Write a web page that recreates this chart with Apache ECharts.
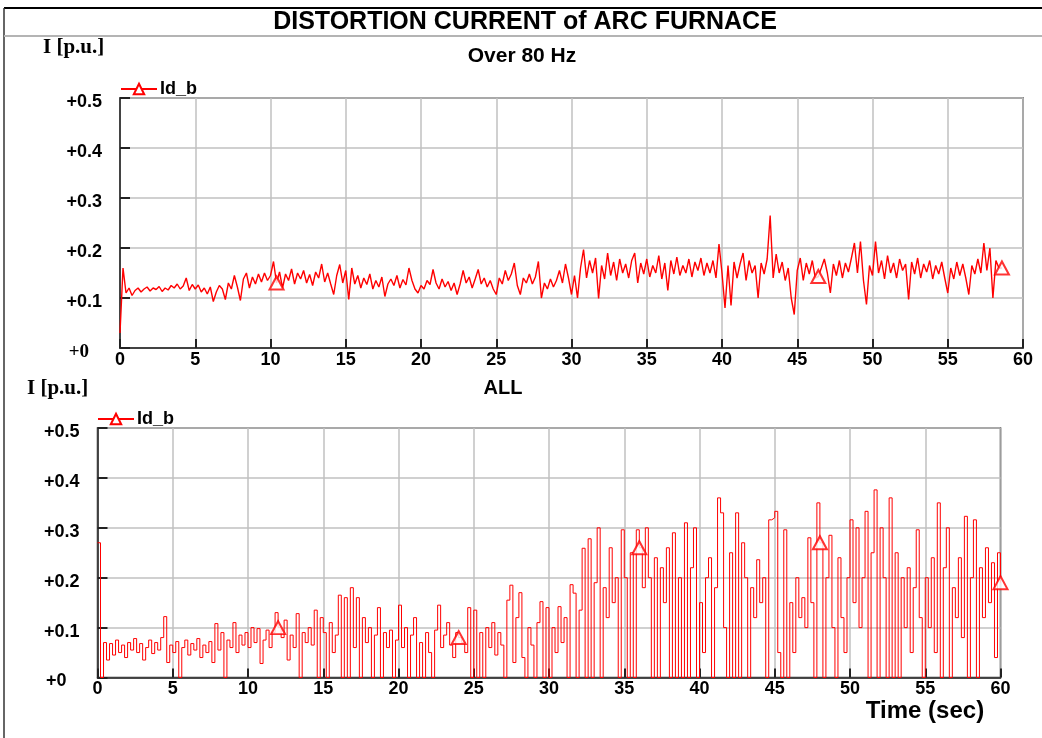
<!DOCTYPE html>
<html>
<head>
<meta charset="utf-8">
<script src="https://cdn.jsdelivr.net/npm/echarts@6/dist/echarts.min.js"></script>
<style>
html,body{margin:0;padding:0;background:#fff;}
#chart{width:1042px;height:738px;}
</style>
</head>
<body>
<div id="chart"></div>
<script>
// sampling step of both records (seconds)
const dt = 0.2;

// "Over 80 Hz" distortion current Id_b [p.u.], t = 0 .. 58.6 s
const topValues = [
  0.03,0.16,0.11,0.12,0.105,0.115,0.12,0.112,0.118,0.122,0.114,0.12,0.117,0.123,0.113,0.12,0.116,0.125,0.12,0.128,0.118,0.124,0.14,0.115,0.127,
  0.118,0.126,0.112,0.12,0.108,0.122,0.093,0.112,0.125,0.118,0.097,0.13,0.118,0.145,0.122,0.095,0.138,0.15,0.12,0.142,0.128,0.148,0.132,0.15,0.135,
  0.145,0.173,0.13,0.152,0.12,0.148,0.135,0.158,0.128,0.15,0.138,0.155,0.13,0.147,0.125,0.152,0.14,0.168,0.132,0.15,0.128,0.107,0.145,0.167,0.13,
  0.155,0.097,0.16,0.128,0.145,0.12,0.14,0.127,0.148,0.118,0.135,0.122,0.142,0.103,0.128,0.138,0.125,0.145,0.12,0.137,0.126,0.16,0.135,0.118,0.11,
  0.125,0.118,0.135,0.127,0.157,0.13,0.118,0.138,0.122,0.133,0.115,0.13,0.107,0.128,0.155,0.13,0.142,0.12,0.138,0.157,0.128,0.14,0.122,0.135,0.118,
  0.107,0.14,0.128,0.155,0.135,0.148,0.17,0.125,0.107,0.14,0.13,0.148,0.128,0.142,0.173,0.1,0.13,0.118,0.138,0.122,0.135,0.155,0.13,0.168,0.14,
  0.107,0.145,0.1,0.16,0.197,0.14,0.175,0.15,0.18,0.099,0.165,0.138,0.19,0.145,0.172,0.135,0.178,0.15,0.168,0.14,0.175,0.19,0.13,0.17,0.148,
  0.178,0.142,0.165,0.15,0.185,0.138,0.17,0.115,0.175,0.148,0.182,0.145,0.165,0.15,0.178,0.142,0.172,0.155,0.18,0.145,0.17,0.15,0.175,0.14,0.208,
  0.15,0.08,0.165,0.085,0.172,0.14,0.168,0.19,0.135,0.175,0.15,0.165,0.1,0.17,0.148,0.178,0.265,0.14,0.188,0.15,0.172,0.135,0.16,0.1,0.067,
  0.155,0.18,0.135,0.17,0.148,0.175,0.14,0.143,0.16,0.178,0.15,0.11,0.168,0.145,0.175,0.14,0.17,0.152,0.18,0.21,0.15,0.213,0.135,0.087,0.165,
  0.145,0.213,0.15,0.175,0.138,0.185,0.15,0.17,0.14,0.178,0.155,0.168,0.097,0.172,0.148,0.18,0.14,0.168,0.152,0.175,0.138,0.165,0.148,0.172,0.14,
  0.11,0.16,0.138,0.172,0.145,0.168,0.14,0.107,0.165,0.148,0.178,0.15,0.21,0.155,0.2,0.1,0.175,0.16,0.16
];

// "ALL" distortion current Id_b [p.u.], t = 0 .. 60 s
const bottomValues = [
  0.27,0.0,0.07,0.035,0.068,0.045,0.075,0.05,0.065,0.04,0.07,0.055,0.078,0.05,0.068,0.035,0.06,0.075,0.048,0.07,0.055,0.08,0.122,0.03,0.065,
  0.05,0.072,0.0,0.06,0.075,0.045,0.068,0.055,0.078,0.04,0.065,0.05,0.072,0.03,0.108,0.055,0.09,0.0,0.075,0.06,0.11,0.05,0.085,0.065,0.09,
  0.06,0.1,0.07,0.098,0.028,0.075,0.095,0.06,0.09,0.13,0.1,0.08,0.115,0.035,0.085,0.06,0.128,0.0,0.09,0.07,0.1,0.065,0.135,0.0,0.12,
  0.09,0.0,0.11,0.05,0.085,0.165,0.0,0.16,0.0,0.18,0.06,0.16,0.0,0.12,0.07,0.1,0.0,0.085,0.14,0.0,0.09,0.06,0.095,0.0,0.075,
  0.145,0.06,0.1,0.0,0.085,0.12,0.0,0.07,0.0,0.09,0.05,0.0,0.095,0.145,0.06,0.085,0.11,0.065,0.04,0.09,0.08,0.07,0.05,0.14,0.0,
  0.135,0.0,0.09,0.0,0.1,0.06,0.11,0.045,0.09,0.065,0.0,0.155,0.185,0.03,0.12,0.17,0.04,0.0,0.1,0.065,0.0,0.11,0.152,0.0,0.14,
  0.0,0.1,0.05,0.142,0.07,0.12,0.0,0.186,0.169,0.0,0.135,0.259,0.0,0.278,0.0,0.19,0.3,0.0,0.18,0.12,0.26,0.15,0.2,0.0,0.296,
  0.2,0.0,0.25,0.0,0.296,0.26,0.18,0.3,0.2,0.0,0.24,0.0,0.22,0.15,0.26,0.0,0.29,0.0,0.2,0.0,0.31,0.0,0.22,0.3,0.0,
  0.15,0.05,0.2,0.24,0.0,0.18,0.36,0.33,0.1,0.0,0.25,0.0,0.33,0.0,0.27,0.2,0.0,0.18,0.12,0.236,0.15,0.2,0.0,0.316,0.32,
  0.333,0.05,0.0,0.296,0.0,0.15,0.05,0.2,0.12,0.16,0.1,0.28,0.15,0.0,0.35,0.27,0.0,0.2,0.285,0.1,0.0,0.24,0.12,0.05,0.2,
  0.316,0.15,0.3,0.1,0.2,0.333,0.0,0.25,0.376,0.0,0.3,0.2,0.0,0.36,0.0,0.25,0.0,0.2,0.1,0.22,0.05,0.18,0.296,0.12,0.0,
  0.2,0.1,0.24,0.05,0.35,0.0,0.22,0.3,0.0,0.18,0.12,0.24,0.08,0.323,0.0,0.2,0.316,0.0,0.22,0.12,0.26,0.15,0.23,0.04,0.25,0.19
];

// sample indices carrying the triangle marker
const topMarkerIdx = [52, 232, 293];
const bottomMarkerIdx = [60, 120, 180, 240, 300];

// tick labels
const xTickLabels = ['0','5','10','15','20','25','30','35','40','45','50','55','60'];
const yTickLabels = ['+0','+0.1','+0.2','+0.3','+0.4','+0.5'];

const seriesName = 'Id_b';

const toPairs = vals => vals.map((v, i) => [+(i * dt).toFixed(2), v]);
const topData = toPairs(topValues);
const bottomData = toPairs(bottomValues);
const topMarkers = topMarkerIdx.map(i => topData[i]);
const bottomMarkers = bottomMarkerIdx.map(i => bottomData[i]);

const SANS = '"Liberation Sans", Arial, Helvetica, sans-serif';
const SERIF = '"Liberation Serif", "Times New Roman", serif';
const RED = '#ff0000';

function xAxisCfg(gi) {
  return {
    gridIndex: gi, type: 'value', min: 0, max: 60, interval: 5,
    axisLine: { show: true, onZero: false, lineStyle: { color: '#222', width: 1.5 } },
    axisTick: { show: true, inside: true, length: 9, lineStyle: { color: '#222', width: 2 } },
    splitLine: { show: true, lineStyle: { color: '#c0c0c0', width: 1.5 } },
    axisLabel: {
      margin: 3, color: '#000', fontFamily: SANS, fontWeight: 'bold', fontSize: 18,
      formatter: v => xTickLabels[Math.round(v / 5)]
    }
  };
}
function yAxisCfg(gi, zeroSerif) {
  return {
    gridIndex: gi, type: 'value', min: 0, max: 0.5, interval: 0.1,
    axisLine: { show: true, lineStyle: { color: '#222', width: 1.5 } },
    axisTick: { show: true, inside: true, length: 10, lineStyle: { color: '#222', width: 2 } },
    splitLine: { show: true, lineStyle: { color: '#c0c0c0', width: 1.5 } },
    axisLabel: {
      margin: 18, color: '#000', fontFamily: SANS, fontWeight: 'bold', fontSize: 18,
      padding: [8, 0, 0, 0],
      formatter: v => {
        const k = Math.round(v * 10);
        return k === 0 ? '{z|' + yTickLabels[0] + '}' : yTickLabels[k];
      },
      rich: {
        z: {
          fontFamily: zeroSerif ? SERIF : SANS, fontWeight: 'bold', fontSize: zeroSerif ? 19 : 18,
          color: '#000', padding: [0, 13, 0, 0]
        }
      }
    }
  };
}
function lineSeries(ai, data, step, w) {
  return {
    type: 'line', name: seriesName, xAxisIndex: ai, yAxisIndex: ai, data: data,
    step: step, symbol: 'emptyTriangle', symbolSize: [13, 12], showSymbol: false,
    lineStyle: { color: RED, width: w }, itemStyle: { color: RED },
    animation: false, silent: true, z: 3
  };
}
function markerSeries(ai, data) {
  return {
    type: 'scatter', name: 'markers', xAxisIndex: ai, yAxisIndex: ai, data: data,
    symbol: 'emptyTriangle', symbolSize: [14, 13],
    itemStyle: { color: RED, borderColor: RED, borderWidth: 1 },
    animation: false, silent: true, z: 4
  };
}
function legendCfg(left, top) {
  return {
    data: [{ name: seriesName }], left: left, top: top, orient: 'horizontal',
    itemWidth: 36, itemHeight: 13, itemGap: 4, padding: 0, selectedMode: false,
    textStyle: { color: '#000', fontFamily: SANS, fontWeight: 'bold', fontSize: 18, padding: [0, 0, 0, -2] }
  };
}
function txt(text, x, y, font, align) {
  return {
    type: 'text', silent: true,
    style: { text: text, x: x, y: y, font: font, fill: '#000', textAlign: align || 'center', textVerticalAlign: 'middle' }
  };
}

const chart = echarts.init(document.getElementById('chart'), null, { renderer: 'canvas' });
chart.setOption({
  backgroundColor: '#fff',
  animation: false,
  grid: [
    { left: 120, top: 98, width: 903, height: 250, show: true, borderColor: '#333', borderWidth: 1.5, backgroundColor: 'transparent' },
    { left: 97.5, top: 428, width: 903, height: 249.5, show: true, borderColor: '#333', borderWidth: 1.5, backgroundColor: 'transparent' }
  ],
  xAxis: [xAxisCfg(0), xAxisCfg(1)],
  yAxis: [yAxisCfg(0, true), yAxisCfg(1, false)],
  legend: [legendCfg(120, 80), legendCfg(97, 410)],
  series: [
    lineSeries(0, topData, false, 1.4),
    markerSeries(0, topMarkers),
    lineSeries(1, bottomData, 'end', 1),
    markerSeries(1, bottomMarkers)
  ],
  graphic: [
    { type: 'line', silent: true, shape: { x1: 4, y1: 8, x2: 1042, y2: 8 }, style: { stroke: '#000', lineWidth: 2 } },
    { type: 'line', silent: true, shape: { x1: 4, y1: 8, x2: 4, y2: 738 }, style: { stroke: '#333', lineWidth: 1.5 } },
    { type: 'line', silent: true, shape: { x1: 4, y1: 36, x2: 1042, y2: 36 }, style: { stroke: '#b4b4b4', lineWidth: 2 } },
    txt('DISTORTION CURRENT of ARC FURNACE', 525, 22, 'bold 25px ' + SANS),
    txt('I [p.u.]', 43, 48, 'bold 21px ' + SERIF, 'left'),
    txt('Over 80 Hz', 522, 56, 'bold 21px ' + SANS),
    txt('I [p.u.]', 27, 389, 'bold 21px ' + SERIF, 'left'),
    txt('ALL', 503, 388, 'bold 20px ' + SANS),
    txt('Time (sec)', 925, 711, 'bold 24px ' + SANS)
  ]
});
</script>
</body>
</html>
